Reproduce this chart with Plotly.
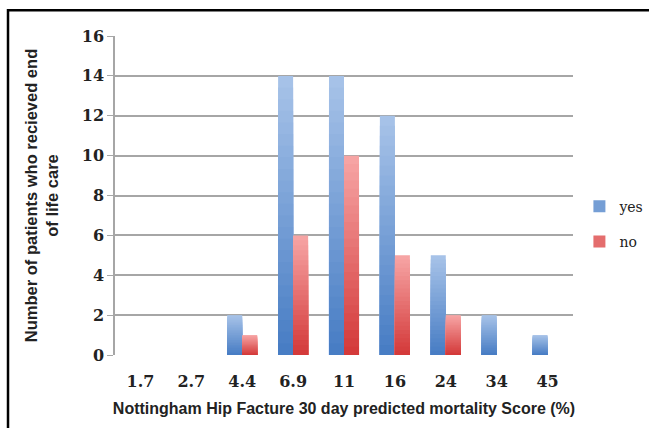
import plotly.graph_objects as go

categories = ["1.7", "2.7", "4.4", "6.9", "11", "16", "24", "34", "45"]
yes_values = [0, 0, 2, 14, 14, 12, 5, 2, 1]
no_values = [0, 0, 1, 6, 10, 5, 2, 0, 0]
y_ticks = [0, 2, 4, 6, 8, 10, 12, 14, 16]

x_title = "Nottingham Hip Facture 30 day predicted mortality Score (%)"
y_title = "Number of patients who recieved end<br>of life care"


def lerp(c1, c2, t):
    return "rgb(%d,%d,%d)" % tuple(round(a + (b - a) * t) for a, b in zip(c1, c2))


series = [
    ("yes", yes_values, (166, 194, 232), (72, 125, 196), -0.295),
    ("no", no_values, (246, 164, 164), (212, 58, 58), 0.0),
]

N = 24
fig = go.Figure()
for name, vals, light, dark, off in series:
    for k in range(N):
        frac = (N - k) / N
        t = k / (N - 1)
        fig.add_trace(go.Bar(
            x=categories,
            y=[v * frac for v in vals],
            name=name,
            legendgroup=name,
            showlegend=(k == N // 2),
            marker=dict(color=lerp(light, dark, t), line=dict(width=0)),
            offset=off,
            width=0.295,
            hoverinfo="skip",
        ))

fig.update_layout(
    width=649,
    height=428,
    barmode="overlay",
    plot_bgcolor="white",
    paper_bgcolor="white",
    margin=dict(l=115, r=76, t=36, b=73, autoexpand=False),
    legend=dict(
        x=1.014, y=0.41, xanchor="left", yanchor="middle",
        font=dict(family="DejaVu Serif", size=14, color="#222222"),
        tracegroupgap=14,
        itemwidth=30,
    ),
    shapes=[dict(
        type="rect", xref="paper", yref="paper",
        x0=-0.2336, x1=1.3, y0=-0.4, y1=1.081,
        line=dict(color="black", width=2.5), fillcolor="rgba(0,0,0,0)",
        layer="above",
    )],
)

fig.update_xaxes(
    type="category",
    categoryorder="array",
    categoryarray=categories,
    showgrid=False,
    showline=False,
    ticks="outside",
    ticklen=12,
    tickcolor="rgba(0,0,0,0)",
    tickfont=dict(family="DejaVu Serif", size=16, color="#222222", weight="bold"),
    title=dict(text=x_title, standoff=12,
               font=dict(family="Liberation Sans", size=16, color="#222222", weight="bold")),
)

fig.update_yaxes(
    range=[0, 16],
    tickvals=y_ticks,
    showgrid=True,
    gridcolor="#a6a6a6",
    gridwidth=1.5,
    showline=True,
    linecolor="#a6a6a6",
    linewidth=1.5,
    ticks="outside",
    ticklen=6,
    tickcolor="#a6a6a6",
    zeroline=False,
    tickfont=dict(family="DejaVu Serif", size=16, color="#222222", weight="bold"),
    title=dict(text=y_title, standoff=19,
               font=dict(family="Liberation Sans", size=16.5, color="#222222", weight="bold")),
)

fig.write_html("out.html", config={"displayModeBar": False},
               post_script="document.body.style.margin='0';")
